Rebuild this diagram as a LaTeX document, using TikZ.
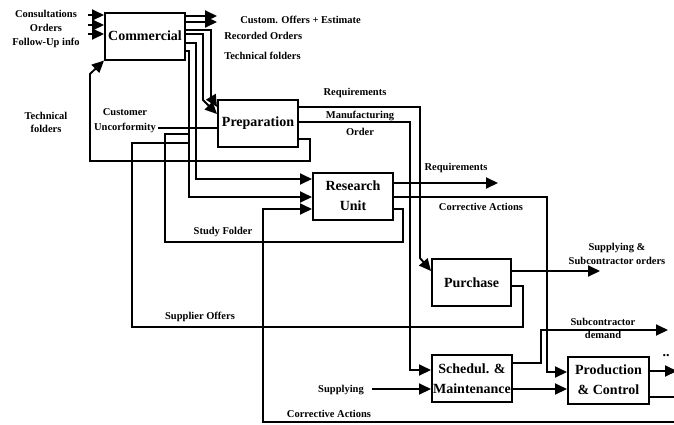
\documentclass[tikz,border=0pt]{standalone}
\usepackage{fontspec}
\setmainfont{Liberation Serif}
\usetikzlibrary{arrows.meta}

\begin{document}
\begin{tikzpicture}[x=1pt, y=-1pt, line width=1.9pt,
  every node/.style={font=\bfseries\fontsize{10.5}{13}\selectfont},
  box/.style={draw, line width=2pt, minimum width=80pt, minimum height=47pt,
    align=center, inner sep=1pt, font=\bfseries\fontsize{14}{20}\selectfont},
  flow/.style={-{Triangle[length=12pt,width=11pt]}}]
  \useasboundingbox (0,0) rectangle (674,424);

  % blocks
  \node[box] (com) at (145,36) {Commercial};
  \node[box] (prep) at (258,123.5) {Preparation};
  \node[box] (res) at (353,196) {Research\\Unit};
  \node[box, minimum width=79pt] (pur) at (471.5,282.5) {Purchase};
  \node[box] (sch) at (472,378.5) {Schedul. \&\\Maintenance};
  \node[box, minimum width=81pt] (prod) at (608.5,380) {Production\\\& Control};

  % free ends
  \coordinate (in1) at (88,15);
  \coordinate (in2) at (88,25);
  \coordinate (in3) at (88,34);
  \coordinate (offers) at (217,19);
  \coordinate (cuend) at (158,128);
  \coordinate (sfend) at (190,134);
  \coordinate (soend) at (190,143);
  \coordinate (reqout) at (498,183);
  \coordinate (supout) at (600,271);
  \coordinate (sdout) at (668,330);
  \coordinate (supin) at (372,389);
  \coordinate (prodout) at (677,371);

  % commercial
  \draw[flow] (in1) -- (in1 -| com.west);
  \draw[flow] (in2) -- (in2 -| com.west);
  \draw[flow] (in3) -- (in3 -| com.west);
  \draw[flow] (com.east |- 0,16) -- (offers |- 0,16);
  \draw[flow] (com.east |- 0,22) -- (offers |- 0,22);
  \draw[flow] (com.east |- 0,30) -- (211,30) -- (211,97) -- (prep.west |- 0,107);
  \draw[flow] (com.east |- 0,34) -- (203,34) -- (203,100) -- (prep.west |- 0,114);
  \draw[flow] (com.east |- 0,43) -- (196,43) -- (196,179) -- (res.west |- 0,179);
  \draw[flow] (com.east |- 0,51) -- (189,51) -- (189,197) -- (res.west |- 0,197);

  % preparation
  \draw[flow] (prep.east |- 0,139) -- (310,139) -- (310,161) -- (90,161) -- (90,74) -- (com.south west);
  \draw (cuend) -- (cuend -| prep.west);
  \draw[flow] (prep.east |- 0,107) -- (420,107) -- (420,258) -- (pur.west |- 0,271);
  \draw[flow] (prep.east |- 0,122) -- (410,122) -- (410,370) -- (sch.west |- 0,370);

  % research unit
  \draw[flow] (res.east |- 0,183) -- (reqout);
  \draw[flow] (res.east |- 0,197) -- (547,197) -- (547,372) -- (prod.west |- 0,372);
  \draw (res.east |- 0,209) -- (403,209) -- (403,242) -- (165,242) -- (165,134) -- (sfend);

  % purchase
  \draw[flow] (pur.east |- 0,271) -- (supout);
  \draw (pur.east |- 0,286) -- (523,286) -- (523,327) -- (132,327) -- (132,143) -- (soend);

  % scheduling and production
  \draw[flow] (supin) -- (sch.west |- 0,389);
  \draw[flow] (sch.east |- 0,363) -- (541,363) -- (541,330) -- (sdout);
  \draw[flow] (sch.east |- 0,389) -- (prod.west |- 0,389);
  \draw[flow] (prod.east |- 0,371) -- (prodout);
  \draw[flow] (prod.east |- 0,397) -- (680,397) -- (680,422) -- (263,422) -- (263,209) -- (res.west |- 0,209);

  % labels
  \node[align=center, font=\bfseries\fontsize{10.5}{14}\selectfont] (lcons) at (46,29) {Consultations\\Orders\\Follow-Up info};
  \node[anchor=west] (loffers) at (236,20) {Custom. Offers + Estimate};
  \node[anchor=west] (lrec) at (220,36) {Recorded Orders};
  \node[anchor=west] (ltech) at (220,56) {Technical folders};
  \node[align=center] (ltechl) at (46,122) {Technical\\folders};
  \node[align=center, font=\bfseries\fontsize{10.5}{15}\selectfont] (lcust) at (125,120.5) {Customer\\Uncorformity};
  \node (lreq) at (355,93) {Requirements};
  \node[align=center, font=\bfseries\fontsize{10.5}{17}\selectfont] (lmo) at (360,123.5) {Manufacturing\\Order};
  \node (lreqr) at (456,168) {Requirements};
  \node (lcar) at (481,207) {Corrective Actions};
  \node (lsf) at (223,232) {Study Folder};
  \node (lso) at (200,317) {Supplier Offers};
  \node[align=center, font=\bfseries\fontsize{10.5}{14}\selectfont] (lsso) at (617,254) {Supplying \&\\Subcontractor orders};
  \node[align=center] (lsd) at (603,328.5) {Subcontractor\\demand};
  \node (lsup) at (341,390) {Supplying};
  \node (lcab) at (329,414) {Corrective Actions};
  \node[font=\bfseries\fontsize{14}{14}\selectfont] (ldots) at (666,356) {..};
\end{tikzpicture}
\end{document}
